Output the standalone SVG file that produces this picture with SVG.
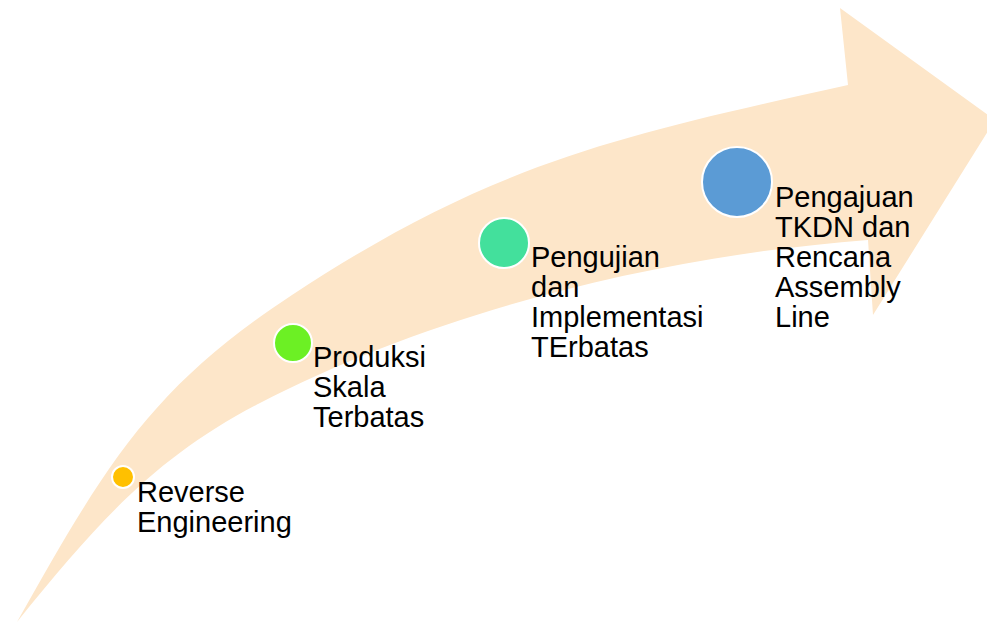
<svg xmlns="http://www.w3.org/2000/svg" width="987" height="625" viewBox="0 0 987 625">
<style>
.lbl{font-family:"Liberation Sans",Arial,sans-serif;font-size:29px;fill:#000}
.dot{stroke:#fff;stroke-width:2}
</style>
<rect width="987" height="625" fill="#fff"/>
<g id="arrow">
<path d="M17,622 C107,462 152,387 292,295 C492,163 618,136 848,85 L840,8 L995,120 L873,315 L868,240 C648,257 430,315 260,403 C160,455 103,515 17,622 Z" fill="#FDE6C9"/>
</g>
<g id="connectors"></g>
<g id="step1">
<circle class="dot" cx="123" cy="477" r="11" fill="#FFC000"/>
<text class="lbl" x="137" y="502">Reverse</text>
<text class="lbl" x="137" y="532">Engineering</text>
</g>
<g id="step2">
<circle class="dot" cx="293" cy="343" r="19" fill="#6CF024"/>
<text class="lbl" x="313" y="367">Produksi</text>
<text class="lbl" x="313" y="397">Skala</text>
<text class="lbl" x="313" y="427">Terbatas</text>
</g>
<g id="step3">
<circle class="dot" cx="504" cy="243" r="25" fill="#43E09C"/>
<text class="lbl" x="531" y="267">Pengujian</text>
<text class="lbl" x="531" y="297">dan</text>
<text class="lbl" x="531" y="327">Implementasi</text>
<text class="lbl" x="531" y="357">TErbatas</text>
</g>
<g id="step4">
<circle class="dot" cx="737" cy="182" r="35" fill="#5B9BD5"/>
<text class="lbl" x="775" y="207">Pengajuan</text>
<text class="lbl" x="775" y="237">TKDN dan</text>
<text class="lbl" x="775" y="267">Rencana</text>
<text class="lbl" x="775" y="297">Assembly</text>
<text class="lbl" x="775" y="327">Line</text>
</g>
</svg>
